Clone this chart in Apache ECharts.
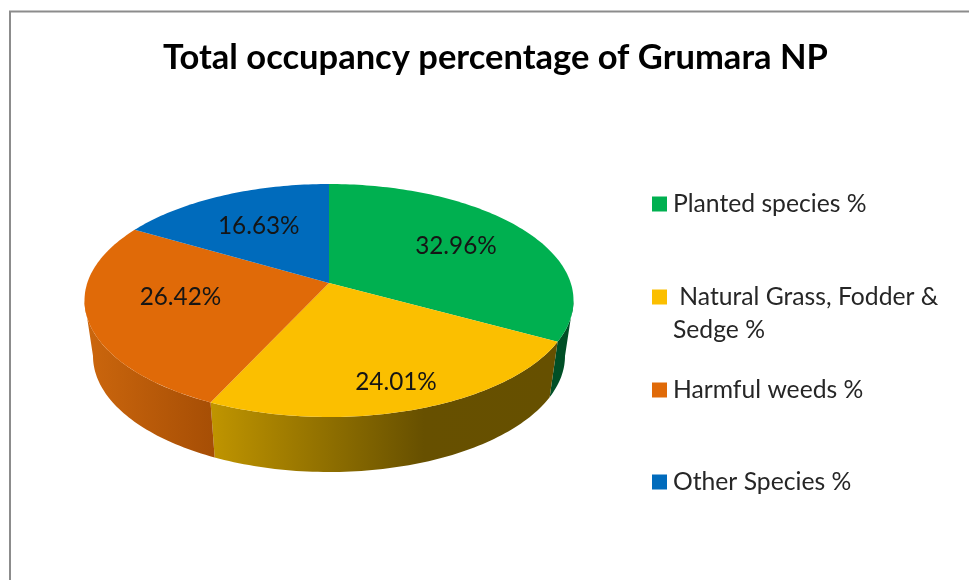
<!DOCTYPE html>
<html>
<head>
<meta charset="utf-8">
<title>Total occupancy percentage of Grumara NP</title>
<style>
    html, body { margin: 0; padding: 0; background: #fff; }
    #main { width: 969px; height: 580px; }
</style>
<script src="https://cdn.jsdelivr.net/npm/echarts@6/dist/echarts.min.js"></script>
</head>
<body>
<div id="main"></div>
<script>
    var titleText = "Total occupancy percentage of Grumara NP";
    var categories = ["Planted species %", "Natural Grass, Fodder & Sedge %", "Harmful weeds %", "Other Species %"];
    var values = [32.96, 24.01, 26.42, 16.63];
    var valueLabels = ["32.96%", "24.01%", "26.42%", "16.63%"];

    var colors = ["#00B050", "#FBBF00", "#E06A08", "#006BBC"];
    var legendMiddles = [204, 297, 390, 482];
    var fontName = "Lato";

    // top and bottom ellipse of the tilted disc
    var topFace = { cx: 329, cy: 300.5, rx: 244.5, ry: 116.5 };
    var bottomFace = { cx: 329, cy: 356, rx: 236, ry: 116 };
    var tilt = 0.15; // how far the pie centre sits above the middle of the ellipse

    // label distance from centre, as a share of the radius
    var labelRadius = [0.63, 0.8, 0.63, 0.63];
    var labelShift = [[2, -2], [-1, 1], [1, -8], [0, 1]];

    var total = values.reduce(function (a, b) { return a + b; }, 0);
    var starts = [];
    values.reduce(function (sum, v, i) { starts[i] = sum; return sum + v; }, 0);

    function toAngle(v) {
        return v / total * Math.PI * 2;
    }

    // point on the disc (r 0..1, angle clockwise from the top) to screen
    function project(face, r, a) {
        var u = Math.sin(a) * r;
        var w = -Math.cos(a) * r;
        var den = 1 - tilt * w;
        return [
            face.cx + face.rx * u * Math.sqrt(1 - tilt * tilt) / den,
            face.cy + face.ry * (w - tilt) / den
        ];
    }

    function arc(face, from, to) {
        var pts = [];
        var steps = Math.max(2, Math.ceil((to - from) / 0.02));
        for (var i = 0; i <= steps; i++) {
            pts.push(project(face, 1, from + (to - from) * i / steps));
        }
        return pts;
    }

    function sideFill(i) {
        var stops;
        if (i === 0) return "#004F26";
        if (i === 1) {
            stops = [
                { offset: 0, color: "#BF9400" },
                { offset: 0.62, color: "#675000" },
                { offset: 1, color: "#665000" }
            ];
            return { type: "linear", x: 213, y: 0, x2: 553, y2: 0, global: true, colorStops: stops };
        }
        stops = [
            { offset: 0, color: "#CB660D" },
            { offset: 1, color: "#A64E05" }
        ];
        return { type: "linear", x: 88, y: 0, x2: 214, y2: 0, global: true, colorStops: stops };
    }

    function renderSlice(params, api) {
        var i = params.seriesIndex;
        var from = toAngle(starts[i]);
        var to = from + toAngle(api.value(0));
        var children = [];

        // only the front of the wall can be seen, it ends where the ellipses are widest
        var edge = Math.acos(-tilt);
        var wallFrom = Math.max(from, edge);
        var wallTo = Math.min(to, Math.PI * 2 - edge);
        if (wallTo > wallFrom) {
            children.push({
                type: "polygon",
                z2: 1,
                shape: { points: arc(topFace, wallFrom, wallTo).concat(arc(bottomFace, wallFrom, wallTo).reverse()) },
                style: { fill: sideFill(i) }
            });
        }

        children.push({
            type: "polygon",
            z2: 2,
            shape: { points: [project(topFace, 0, 0)].concat(arc(topFace, from, to)) },
            style: { fill: colors[i] }
        });

        var mid = project(topFace, labelRadius[i], (from + to) / 2);
        children.push({
            type: "text",
            z2: 3,
            x: mid[0] + labelShift[i][0],
            y: mid[1] + labelShift[i][1],
            style: {
                text: valueLabels[i],
                fill: "#151515",
                font: "24.3px " + fontName,
                align: "center",
                verticalAlign: "middle"
            }
        });
        return { type: "group", children: children };
    }

    var chart = echarts.init(document.getElementById("main"));

    var option = {
        backgroundColor: "#fff",
        animation: false,
        title: {
            text: titleText,
            left: 158,
            top: 35,
            textStyle: { fontFamily: fontName, fontWeight: "bold", fontSize: 34.5, color: "#000" }
        },
        legend: categories.map(function (name, i) {
            return {
                data: [name],
                left: 652,
                top: legendMiddles[i] - 15,
                padding: 0,
                icon: "rect",
                itemWidth: 15,
                itemHeight: 15,
                itemGap: 0,
                selectedMode: false,
                formatter: function (n) {
                    return i === 1 ? " Natural Grass, Fodder &" : n;
                },
                textStyle: { fontFamily: fontName, fontSize: 24.7, color: "#262626", lineHeight: 30, padding: [0, 0, 0, 1] }
            };
        }),
        graphic: [
            {
                type: "polyline",
                shape: { points: [[10, 580], [10, 11.5], [969, 11.5]] },
                style: { stroke: "#8C8C8C", lineWidth: 2, fill: null }
            },
            {
                type: "text",
                x: 673,
                y: 330,
                style: { text: "Sedge %", fill: "#262626", font: "24.7px " + fontName, verticalAlign: "middle" }
            }
        ],
        series: categories.map(function (name, i) {
            return {
                name: name,
                type: "custom",
                coordinateSystem: "none",
                itemStyle: { color: colors[i] },
                renderItem: renderSlice,
                data: [[values[i]]]
            };
        })
    };

    chart.setOption(option);
</script>
</body>
</html>
